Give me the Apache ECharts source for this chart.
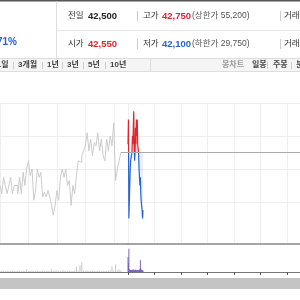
<!DOCTYPE html>
<html>
<head>
<meta charset="utf-8">
<script src="https://cdn.jsdelivr.net/npm/echarts@6/dist/echarts.min.js"></script>
<style>
html, body { margin: 0; padding: 0; background: #fff; }
#chart { width: 300px; height: 300px; }
</style>
</head>
<body>
<div id="chart"></div>
<script>
// 시세 요약
var prevClose = 42500;
var openPrice = 42550;
var highPrice = 42750;
var lowPrice = 42100;
var upperLimit = 55200;
var lowerLimit = 29750;
var changeRate = '+0.71%';

var periodTabs = ['1일', '3개월', '1년', '3년', '5년', '10년'];
var chartTabs = ['봉차트', '일봉', '주봉', '분봉'];

// 이전 구간 (회색) 가격 / 거래량
var histPrices = [42300, 42250, 42350, 42300, 42250, 42300, 42350, 42250, 42300,
    42300, 42250, 42350, 42250, 42380, 42300, 42400, 42450, 42360, 42400, 42210, 42270,
    42400, 42350, 42380, 42230, 42260, 42230, 42270, 42230, 42180, 42120, 42180, 42270,
    42210, 42350, 42400, 42350, 42400, 42300, 42330, 42180, 42300, 42250, 42360, 42450,
    42440, 42480, 42510, 42540, 42620, 42510, 42580, 42480, 42560, 42540, 42620, 42510,
    42580, 42480, 42450, 42580, 42510, 42600, 42540, 42680, 42330, 42400, 42450, 42500];
var histVolumes = [2, 3, 2, 2, 3, 2, 2, 3, 2,
    2, 3, 2, 2, 3, 2, 6, 2, 2, 3, 2, 2,
    3, 2, 2, 3, 2, 2, 3, 2, 6, 2, 2, 3,
    2, 2, 3, 4, 2, 2, 3, 2, 2, 3, 12, 3,
    14, 21, 3, 2, 3, 2, 2, 3, 2, 2, 3, 2,
    2, 3, 2, 2, 3, 4, 12, 3, 16, 4, 6, 3];
var histSpan = 72;

// 오늘 (09:00 부터 1분 단위)
var todayPrices = [42550, 42700, 42100, 42200, 42300, 42400, 42450, 42450, 42450, 42500,
    42600, 42550, 42650, 42750, 42550, 42450, 42500, 42650, 42550, 42700,
    42600, 42700, 42550, 42550, 42500, 42400, 42350, 42300, 42350, 42250,
    42200, 42200, 42150, 42100, 42150];
var todayVolumes = [32, 19, 50, 6, 4, 3, 5, 3, 4, 3,
    5, 4, 3, 6, 3, 4, 3, 5, 3, 4,
    3, 5, 4, 3, 3, 4, 5, 6, 25, 8,
    4, 5, 3, 4, 3];

var RED = '#e0262d';
var BLUE = '#2463cf';
var FONT = '"Liberation Sans", "Noto Sans CJK KR", sans-serif';

function fmt(n) {
    return n.toLocaleString('en-US');
}

// 전일 종가 기준으로 위는 빨강, 아래는 파랑
function splitColor(top, bottom) {
    var hi = Math.max.apply(null, todayPrices);
    var lo = Math.min.apply(null, todayPrices);
    var o = (hi - prevClose) / (hi - lo);
    return {
        type: 'linear', x: 0, y: 0, x2: 0, y2: 1,
        colorStops: [
            { offset: 0, color: top },
            { offset: o, color: top },
            { offset: o, color: bottom },
            { offset: 1, color: bottom }
        ]
    };
}

var myChart = echarts.init(document.getElementById('chart'));

// 상단 시세판 / 탭 / 스크롤바
var g = [];
function txt(x, y, s, color, font, align) {
    g.push({
        type: 'text', x: x, y: y, silent: true,
        style: { text: s, fill: color, font: font, align: align || 'left', verticalAlign: 'middle' }
    });
}
function ln(x1, y1, x2, y2, color) {
    g.push({
        type: 'line', silent: true,
        shape: { x1: x1, y1: y1, x2: x2, y2: y2 },
        style: { stroke: color, lineWidth: 1 }
    });
}
function box(x, y, w, h, color) {
    g.push({ type: 'rect', silent: true, shape: { x: x, y: y, width: w, height: h }, style: { fill: color } });
}

box(0, 58, 300, 14, '#f5f5f5');
box(0, 0, 300, 1.5, '#555');
ln(56.5, 1.5, 56.5, 58, '#dddddd');
ln(57, 30.5, 300, 30.5, '#e8e8e8');
ln(0, 58.5, 300, 58.5, '#dddddd');
ln(0, 71.5, 300, 71.5, '#dddddd');
ln(150.5, 58, 150.5, 72, '#dddddd');
box(0, 278, 300, 11, '#c4c4c4');

txt(17, 42, changeRate, BLUE, 'bold 10px ' + FONT, 'right');

var lab = '8.5px ' + FONT;
var val = 'bold 9.5px ' + FONT;
txt(68, 16, '전일', '#333', lab);
txt(88, 16, fmt(prevClose), '#222', val);
ln(137.5, 11, 137.5, 21, '#cccccc');
txt(143, 16, '고가', '#333', lab);
txt(162, 16, fmt(highPrice), RED, val);
txt(192, 16, '(상한가 ' + fmt(upperLimit) + ')', '#555', lab);
ln(280.5, 11, 280.5, 21, '#cccccc');
txt(284, 16, '거래량', '#333', lab);

txt(68, 44, '시가', '#333', lab);
txt(88, 44, fmt(openPrice), RED, val);
ln(137.5, 39, 137.5, 49, '#cccccc');
txt(143, 44, '저가', '#333', lab);
txt(162, 44, fmt(lowPrice), BLUE, val);
txt(192, 44, '(하한가 ' + fmt(lowerLimit) + ')', '#555', lab);
ln(280.5, 39, 280.5, 49, '#cccccc');
txt(284, 44, '거래대금', '#333', lab);

var tabX = [8.5, 18, 47, 67, 88, 110];
var sepX = [13, 42, 62, 83, 105];
var tabFont = 'bold 8px ' + FONT;
periodTabs.forEach(function (t, i) {
    txt(tabX[i], 65, t, '#444', tabFont, i === 0 ? 'right' : 'left');
});
sepX.forEach(function (x) { ln(x + 0.5, 62, x + 0.5, 69, '#cccccc'); });
txt(222, 65, chartTabs[0], '#999', tabFont);
txt(252, 65, chartTabs[1], '#444', tabFont);
ln(267.5, 62, 267.5, 69, '#cccccc');
txt(273, 65, chartTabs[2], '#444', tabFont);
ln(291.5, 62, 291.5, 69, '#cccccc');
txt(296, 65, chartTabs[3], '#444', tabFont);

var gridLine = '#eeeeee';
var hide = { show: false };

var option = {
    animation: false,
    graphic: g,
    grid: [
        { left: -19, width: 147, top: 103, bottom: 56.75 },
        { left: 128, width: 209.3, top: 103, bottom: 56.75 },
        { left: -19, width: 147, top: 244, bottom: 28 },
        { left: 128, width: 209.3, top: 244, bottom: 28 }
    ],
    xAxis: [
        {
            gridIndex: 0, type: 'value', min: 0, max: histSpan, interval: 16,
            axisLine: { show: true, onZero: false, lineStyle: { color: '#888', width: 1.5 } },
            axisTick: hide, axisLabel: hide,
            splitLine: { show: true, lineStyle: { color: gridLine } }
        },
        {
            gridIndex: 1, type: 'value', min: 9, max: 15.5, interval: 1,
            axisLine: { show: true, onZero: false, lineStyle: { color: '#888', width: 1.5 } },
            axisTick: hide, axisLabel: hide,
            splitLine: { show: true, lineStyle: { color: gridLine } }
        },
        {
            gridIndex: 2, type: 'value', min: 0, max: histSpan, interval: 16,
            axisLine: { show: true, onZero: false, lineStyle: { color: '#777', width: 1 } },
            axisTick: hide, axisLabel: hide, splitLine: hide
        },
        {
            gridIndex: 3, type: 'value', min: 9, max: 15.5, interval: 1,
            axisLine: { show: true, onZero: false, lineStyle: { color: '#777', width: 1 } },
            axisTick: { show: true, length: 3, lineStyle: { color: '#555' } },
            axisLabel: hide, splitLine: hide
        }
    ],
    yAxis: [0, 1].map(function (i) {
        return {
            gridIndex: i, type: 'value', min: 41950, max: 42800, minInterval: 200, maxInterval: 200,
            axisLine: hide, axisTick: hide, axisLabel: hide,
            splitLine: {
                show: true,
                lineStyle: { color: ['rgba(0,0,0,0)', 'rgba(0,0,0,0)', gridLine, gridLine, gridLine, gridLine] }
            }
        };
    }).concat([2, 3].map(function (i) {
        return { gridIndex: i, type: 'value', min: 0, max: 60, show: false };
    })),
    series: [
        {
            type: 'line', xAxisIndex: 0, yAxisIndex: 0, step: 'end', symbol: 'none', silent: true,
            lineStyle: { color: '#cbcbcb', width: 1 },
            data: histPrices.map(function (v, i) { return [i, v]; })
        },
        {
            type: 'line', xAxisIndex: 0, yAxisIndex: 0, symbol: 'none', silent: true,
            lineStyle: { color: '#aaaaaa', width: 1 },
            data: [[histPrices.length - 1, prevClose], [histSpan, prevClose]]
        },
        {
            type: 'line', xAxisIndex: 1, yAxisIndex: 1, symbol: 'none', silent: true,
            markLine: {
                silent: true, symbol: 'none', label: hide,
                lineStyle: { color: '#aaaaaa', type: 'solid', width: 1 },
                data: [{ yAxis: prevClose }]
            },
            lineStyle: { opacity: 0 },
            data: [[9, prevClose], [15.5, prevClose]]
        },
        {
            type: 'line', xAxisIndex: 1, yAxisIndex: 1, symbol: 'none', silent: true,
            lineStyle: { width: 1.2, color: splitColor(RED, BLUE) },
            areaStyle: { origin: prevClose, color: splitColor('rgba(232,60,66,0.3)', 'rgba(60,120,215,0.16)') },
            data: todayPrices.map(function (v, m) { return [9 + m / 60, v]; })
        },
        {
            type: 'bar', xAxisIndex: 2, yAxisIndex: 2, barWidth: 1, silent: true,
            itemStyle: { color: '#c6c6c6' },
            data: histVolumes.map(function (v, i) { return [i, v]; })
        },
        {
            type: 'bar', xAxisIndex: 3, yAxisIndex: 3, barWidth: 1, silent: true,
            itemStyle: { color: '#7b5fbf' },
            data: todayVolumes.map(function (v, m) { return [9 + m / 60, v]; })
        }
    ]
};

myChart.setOption(option);
</script>
</body>
</html>
